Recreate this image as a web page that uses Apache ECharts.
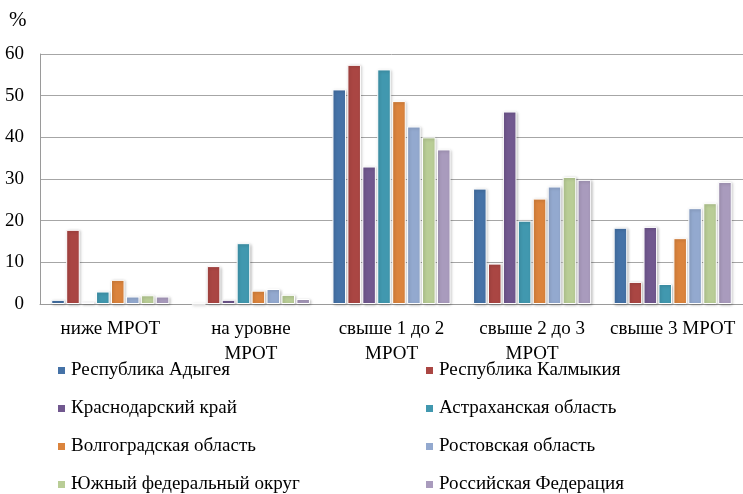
<!DOCTYPE html>
<html><head><meta charset="utf-8">
<script src="https://cdn.jsdelivr.net/npm/echarts@6/dist/echarts.min.js"></script>
<style>html,body{margin:0;padding:0;background:#fff}#c{width:743px;height:494px}</style>
</head><body><div id="c"></div>
<script>
const categories = ['ниже МРОТ', 'на уровне МРОТ', 'свыше 1 до 2 МРОТ', 'свыше 2 до 3 МРОТ', 'свыше 3 МРОТ'];
const tickLabels = ['ниже МРОТ', 'на уровне\nМРОТ', 'свыше 1 до 2\nМРОТ', 'свыше 2 до 3\nМРОТ', 'свыше 3 МРОТ'];
const seriesNames = ['Республика Адыгея', 'Республика Калмыкия', 'Краснодарский край', 'Астраханская область', 'Волгоградская область', 'Ростовская область', 'Южный федеральный округ', 'Российская Федерация'];
const adygea    = [1.0, 0,    51.5, 27.7, 18.3];
const kalmykia  = [17.8, 9.1, 57.4, 9.7, 5.3];
const krasnodar = [0.5, 1.0,  33.0, 46.2, 18.5];
const astrakhan = [3.0, 14.6, 56.3, 20.0, 4.8];
const volgograd = [5.8, 3.2,  48.7, 25.3, 15.8];
const rostov    = [1.8, 3.6,  42.6, 28.2, 23.0];
const yufo      = [2.1, 2.2,  40.0, 30.5, 24.2];
const rf        = [1.8, 1.2,  37.1, 29.8, 29.3];
const yTicks = [0, 60, 10];
const colors = ['#4572A7', '#AA4643', '#71588F', '#4198AF', '#DB843D', '#93A9CF', '#B9CD96', '#A99BBD'];
const values = [adygea, kalmykia, krasnodar, astrakhan, volgograd, rostov, yufo, rf];
const font = 'Liberation Serif';
const chart = echarts.init(document.getElementById('c'));
const legendBase = {orient: 'vertical', top: 361, padding: 0, itemWidth: 9, itemHeight: 9, itemGap: 19, icon: 'rect', height: 140,
  textStyle: {fontFamily: font, fontSize: 19, color: '#000'}};
chart.setOption({
  animation: false,
  color: colors,
  textStyle: {fontFamily: font},
  graphic: [{type: 'text', left: 9, top: 10, style: {text: '%', fontFamily: font, fontSize: 21, fill: '#000'}}],
  grid: {left: 40, right: 0, top: 54, bottom: 190},
  xAxis: {
    type: 'category', data: categories,
    axisLine: {lineStyle: {color: '#9a9a9a'}},
    axisTick: {show: false},
    axisLabel: {color: '#000', fontFamily: font, fontSize: 19, margin: 13, interval: 0, lineHeight: 25,
      formatter: (v, i) => tickLabels[i]}
  },
  yAxis: {
    type: 'value', min: yTicks[0], max: yTicks[1], interval: yTicks[2],
    axisLine: {show: true, lineStyle: {color: '#9a9a9a'}},
    axisLabel: {color: '#000', fontFamily: font, fontSize: 19, margin: 16},
    splitLine: {lineStyle: {color: '#a6a6a6'}}
  },
  legend: [
    Object.assign({}, legendBase, {left: 56, data: [seriesNames[0], seriesNames[2], seriesNames[4], seriesNames[6]]}),
    Object.assign({}, legendBase, {left: 424, data: [seriesNames[1], seriesNames[3], seriesNames[5], seriesNames[7]]})
  ],
  series: seriesNames.map((n, i) => ({
    name: n, type: 'bar', data: values[i],
    barCategoryGap: '16%', barGap: '10%',
    itemStyle: {color: colors[i], borderColor: '#fff', borderWidth: 1, shadowBlur: 3, shadowColor: 'rgba(0,0,0,0.25)', shadowOffsetX: 1, shadowOffsetY: 1}
  }))
});
</script></body></html>
